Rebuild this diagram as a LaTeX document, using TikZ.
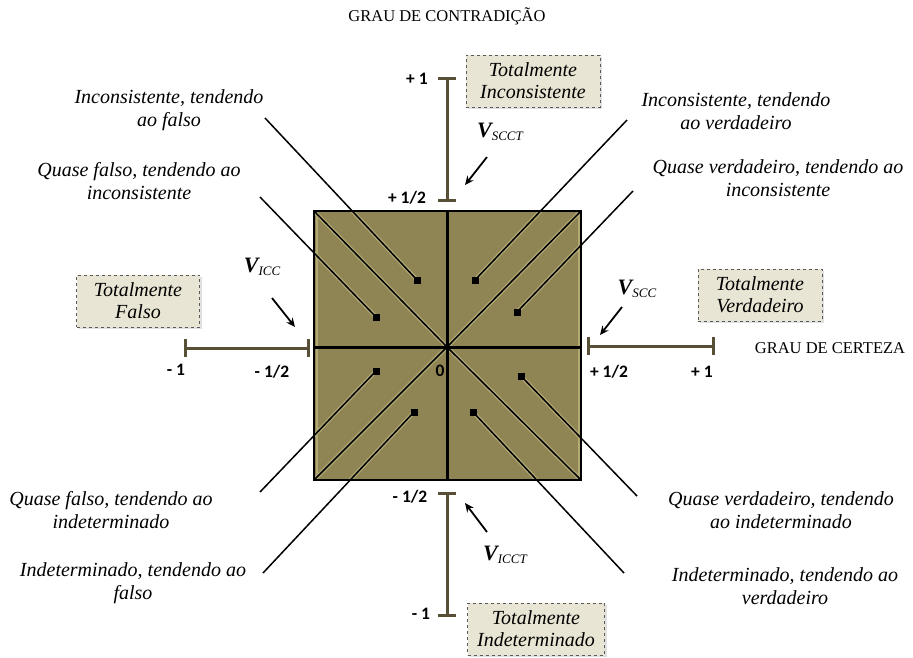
\documentclass[tikz,border=0pt]{standalone}
\usepackage{fontspec}
\setmainfont{Liberation Serif}
\newfontfamily\numfont{Carlito}
\usetikzlibrary{arrows.meta}
\definecolor{sqfill}{RGB}{142,132,84}
\definecolor{sqhalo}{RGB}{178,169,116}
\definecolor{scalecol}{RGB}{88,80,54}
\definecolor{boxfill}{RGB}{233,229,212}
\definecolor{boxline}{RGB}{90,90,90}
\newcommand{\Vsub}[1]{{\bfseries\itshape V}\raisebox{-3pt}{\fontsize{13}{13}\selectfont\itshape #1}}
\begin{document}
\begin{tikzpicture}[x=1pt,y=-1pt,
  lbl/.style={font=\fontsize{20}{23}\selectfont\itshape, align=center, inner sep=0pt},
  num/.style={font=\numfont\bfseries\fontsize{17.5}{17.5}\selectfont, inner sep=0pt},
  head/.style={font=\fontsize{16.5}{18}\selectfont, inner sep=0pt},
  tbox/.style={draw=boxline, dashed, line width=0.9pt, fill=boxfill, align=center,
    font=\fontsize{20}{22}\selectfont\itshape, inner sep=0pt, minimum height=52pt},
  boxshadow/.style={fill=black!12, inner sep=0pt, minimum height=52pt},
  marker/.style={fill=black, minimum size=7pt, inner sep=0pt},
  scaleline/.style={draw=scalecol, line width=3pt},
  tick/.style={draw=scalecol, line width=3pt},
  ptr/.style={-{Stealth[length=9pt,width=8pt]}, line width=1.8pt},
  thin/.style={line width=1.5pt},
  vlab/.style={font=\fontsize{22}{22}\selectfont, inner sep=0pt}
]
\useasboundingbox (0,0) rectangle (913,657);

% square
\coordinate (TL) at (314,211);
\coordinate (TR) at (581,211);
\coordinate (BL) at (314,480);
\coordinate (BR) at (581,480);
\coordinate (O) at (447,347);
\coordinate (Tm) at (447,211);
\coordinate (Bm) at (447,480);
\coordinate (Lm) at (314,347);
\coordinate (Rm) at (581,347);
\fill[sqfill] (TL) rectangle (BR);

% markers
\node[marker] (m1) at (417,280) {};
\node[marker] (m2) at (376,317) {};
\node[marker] (m3) at (475,280) {};
\node[marker] (m4) at (517,312) {};
\node[marker] (m5) at (376,371) {};
\node[marker] (m6) at (414,412) {};
\node[marker] (m7) at (521,376) {};
\node[marker] (m8) at (473,412) {};

% outer endpoints
\coordinate (e1) at (265,118);
\coordinate (e2) at (260,197);
\coordinate (e3) at (627,120);
\coordinate (e4) at (633,191);
\coordinate (e5) at (260,492);
\coordinate (e6) at (263,573);
\coordinate (e7) at (637,496);
\coordinate (e8) at (624,573);

% halos inside square
\begin{scope}
\clip (TL) rectangle (BR);
\draw[sqhalo, line width=4pt] (TL) -- (O) -- (BR) (TR) -- (O) -- (BL);
\draw[sqhalo, line width=4pt] (e1) -- (m1.center) (e2) -- (m2.center) (e3) -- (m3.center) (e4) -- (m4.center)
  (e5) -- (m5.center) (e6) -- (m6.center) (e7) -- (m7.center) (e8) -- (m8.center);
\draw[sqhalo, line width=2pt] ([shift={(2.5,-2.5)}]TL) rectangle ([shift={(-2.5,2.5)}]BR);
\end{scope}

% diagonals and cross
\draw[thin] (TL) -- (O) -- (BR);
\draw[thin] (TR) -- (O) -- (BL);
\draw[line width=3pt] (Tm) -- (Bm);
\draw[line width=3pt] (Lm) -- (Rm);
\draw[line width=2pt] (TL) rectangle (BR);

% lines to markers
\draw[thin] (e1) -- (m1.center);
\draw[thin] (e2) -- (m2.center);
\draw[thin] (e3) -- (m3.center);
\draw[thin] (e4) -- (m4.center);
\draw[thin] (e5) -- (m5.center);
\draw[thin] (e6) -- (m6.center);
\draw[thin] (e7) -- (m7.center);
\draw[thin] (e8) -- (m8.center);
\foreach \m in {m1,m2,m3,m4,m5,m6,m7,m8} \node[marker] at (\m) {};

% scales
\coordinate (hl1) at (185,348); \coordinate (hl2) at (308,348);
\coordinate (hr1) at (588,346); \coordinate (hr2) at (713,346);
\coordinate (vt1) at (447,78);  \coordinate (vt2) at (447,200);
\coordinate (vb1) at (447,493); \coordinate (vb2) at (447,615);
\draw[scaleline] (hl1) -- (hl2);
\draw[tick] ([yshift=-9pt]hl1) -- ([yshift=9pt]hl1);
\draw[tick] ([yshift=-9pt]hl2) -- ([yshift=9pt]hl2);
\draw[scaleline] (hr1) -- (hr2);
\draw[tick] ([yshift=-9pt]hr1) -- ([yshift=9pt]hr1);
\draw[tick] ([yshift=-9pt]hr2) -- ([yshift=9pt]hr2);
\draw[scaleline] (vt1) -- (vt2);
\draw[tick] ([xshift=-9pt]vt1) -- ([xshift=9pt]vt1);
\draw[tick] ([xshift=-9pt]vt2) -- ([xshift=9pt]vt2);
\draw[scaleline] (vb1) -- (vb2);
\draw[tick] ([xshift=-9pt]vb1) -- ([xshift=9pt]vb1);
\draw[tick] ([xshift=-9pt]vb2) -- ([xshift=9pt]vb2);

% numbers
\node[num] (nl1) at (176,370) {- 1};
\node[num] (nl2) at (272,372) {- 1/2};
\node[num] (nr1) at (609,372) {+ 1/2};
\node[num] (nr2) at (702,372) {+ 1};
\node[num] (nt1) at (417,79) {+ 1};
\node[num] (nt2) at (407,198) {+ 1/2};
\node[num] (nb1) at (410,497) {- 1/2};
\node[num] (nb2) at (421,614) {- 1};
\node[num] (n0) at (440,371) {0};

% headings
\node[head] (hc) at (447,16) {GRAU DE CONTRADIÇÃO};
\node[head] (hx) at (830,348) {GRAU DE CERTEZA};

% boxes
\node[boxshadow, minimum width=123pt] at (140,303) {};
\node[boxshadow, minimum width=134pt] at (535,83) {};
\node[boxshadow, minimum width=124pt] at (762,297) {};
\node[boxshadow, minimum width=137pt] at (538,631) {};
\node[tbox, minimum width=123pt] (bF) at (138,301) {Totalmente\\Falso};
\node[tbox, minimum width=134pt] (bI) at (533,81) {Totalmente\\Inconsistente};
\node[tbox, minimum width=124pt] (bV) at (760,295) {Totalmente\\Verdadeiro};
\node[tbox, minimum width=137pt] (bD) at (536,629) {Totalmente\\Indeterminado};

% V labels and arrows
\node[vlab] (vscct) at (500,132) {\Vsub{SCCT}};
\node[vlab] (vicc) at (262,267) {\Vsub{ICC}};
\node[vlab] (vscc) at (637,289) {\Vsub{SCC}};
\node[vlab] (vicct) at (505,555) {\Vsub{ICCT}};
\coordinate (a1s) at (487,157); \coordinate (a1e) at (465,185);
\coordinate (a2s) at (272,298); \coordinate (a2e) at (295,327);
\coordinate (a3s) at (622,307); \coordinate (a3e) at (600,335);
\coordinate (a4s) at (487,532); \coordinate (a4e) at (465,503);
\draw[ptr] (a1s) -- (a1e);
\draw[ptr] (a2s) -- (a2e);
\draw[ptr] (a3s) -- (a3e);
\draw[ptr] (a4s) -- (a4e);

% labels
\node[lbl] (l1) at (169,110) {Inconsistente, tendendo\\ao falso};
\node[lbl] (l2) at (139,181) {Quase falso, tendendo ao\\inconsistente};
\node[lbl] (l3) at (736,111) {Inconsistente, tendendo\\ao verdadeiro};
\node[lbl] (l4) at (778,178) {Quase verdadeiro, tendendo ao\\inconsistente};
\node[lbl] (l5) at (111,510) {Quase falso, tendendo ao\\indeterminado};
\node[lbl] (l6) at (133,583) {Indeterminado, tendendo ao\\falso};
\node[lbl] (l7) at (781,510) {Quase verdadeiro, tendendo\\ao indeterminado};
\node[lbl] (l8) at (785,586) {Indeterminado, tendendo ao\\verdadeiro};
\end{tikzpicture}
\end{document}
